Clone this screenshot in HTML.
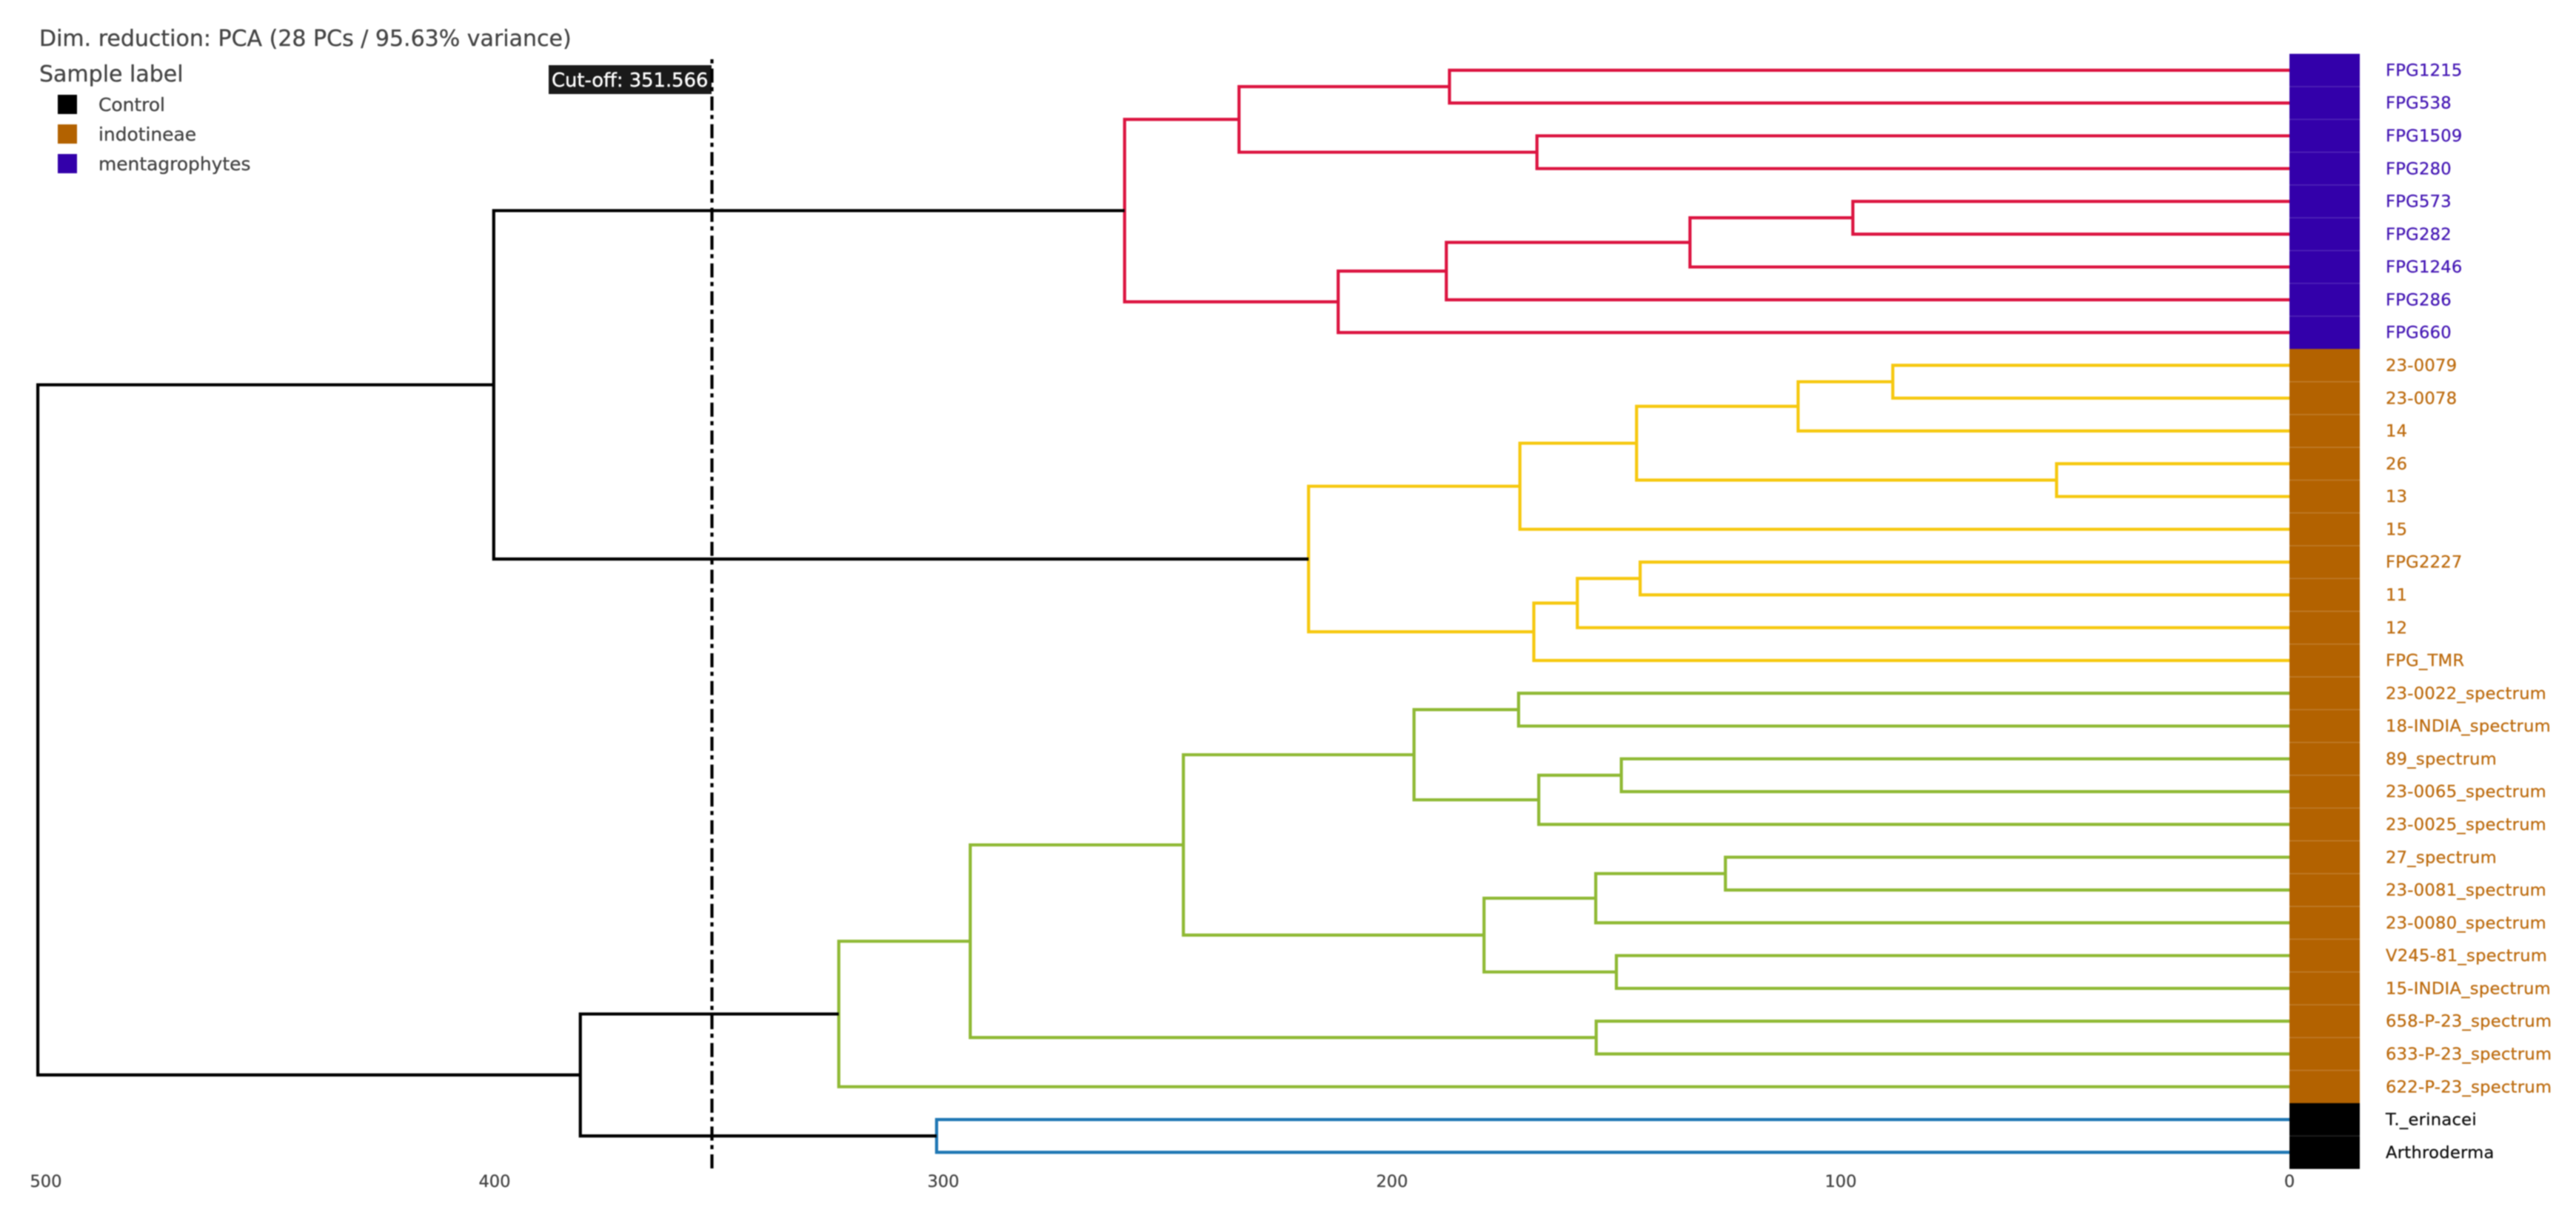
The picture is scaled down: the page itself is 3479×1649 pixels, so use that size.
<!DOCTYPE html>
<html lang="en">
<head>
<meta charset="utf-8">
<title>Dendrogram - Dim. reduction: PCA</title>
<style>
html,body{margin:0;padding:0;background:#fff;}
body{width:3479px;height:1649px;overflow:hidden;}
svg{display:block;filter:blur(0.7px);}
text{font-family:"DejaVu Sans","Liberation Sans",sans-serif;}
</style>
</head>
<body>
<svg id="chart" xmlns="http://www.w3.org/2000/svg" width="3479" height="1649" viewBox="0 0 3479 1649">
  <rect x="0" y="0" width="3479" height="1649" fill="#ffffff"/>
  <g id="links"></g>
  <g id="heat"></g>
  <g id="leaves"></g>
  <g id="ticks"></g>

  <text x="53" y="62" font-size="30" fill="#444" stroke="#444" stroke-width="0.3">Dim. reduction: PCA (28 PCs / 95.63% variance)</text>
  <text x="53" y="110" font-size="30" fill="#444" stroke="#444" stroke-width="0.3">Sample label</text>
  <g id="legend"></g>

  <rect x="741" y="88" width="220" height="39" fill="#1a1a1a"/>
  <text x="745" y="117" font-size="25.8" fill="#ffffff" stroke="#ffffff" stroke-width="0.4">Cut-off: 351.566</text>
  <line id="cutoff" y1="1578" y2="78" stroke="#000" stroke-width="4.2" stroke-dasharray="19 7 5.6 6"/>
</svg>
<script>
// Leaves, top to bottom
const leafLabels = ["FPG1215","FPG538","FPG1509","FPG280","FPG573","FPG282","FPG1246","FPG286","FPG660",
  "23-0079","23-0078","14","26","13","15","FPG2227","11","12","FPG_TMR",
  "23-0022_spectrum","18-INDIA_spectrum","89_spectrum","23-0065_spectrum","23-0025_spectrum","27_spectrum",
  "23-0081_spectrum","23-0080_spectrum","V245-81_spectrum","15-INDIA_spectrum","658-P-23_spectrum",
  "633-P-23_spectrum","622-P-23_spectrum","T._erinacei","Arthroderma"];
const leafGroups = ["mentagrophytes","mentagrophytes","mentagrophytes","mentagrophytes","mentagrophytes","mentagrophytes","mentagrophytes","mentagrophytes","mentagrophytes",
  "indotineae","indotineae","indotineae","indotineae","indotineae","indotineae","indotineae","indotineae","indotineae","indotineae",
  "indotineae","indotineae","indotineae","indotineae","indotineae","indotineae","indotineae","indotineae","indotineae","indotineae",
  "indotineae","indotineae","indotineae","Control","Control"];
// Linkage: a child id below leafLabels.length is a leaf row, otherwise merge (id - leafLabels.length)
const mergeLeft  = [0,2,34,4,37,38,39,36, 9,42,12,43,45,15,47,48,46, 19,21,52,51,24,55,27,56,54,29,59,61, 32, 41,62,64];
const mergeRight = [1,3,35,5,6,7,8,40, 10,11,13,44,14,16,17,18,49, 20,22,23,53,25,26,28,57,58,30,60,31, 33, 50,63,65];
const mergeHeights = [187.2,167.7,234.1,97.3,133.6,187.9,212.0,259.6,
  88.4,109.5,51.9,145.5,171.5,144.7,158.7,168.4,218.6,
  171.8,148.9,167.3,195.1,125.7,154.6,150.0,179.5,246.5,154.5,294.0,323.3,
  301.5, 400.2,380.9,501.8];
const mergeClusters = ["red","red","red","red","red","red","red","red",
  "yellow","yellow","yellow","yellow","yellow","yellow","yellow","yellow","yellow",
  "green","green","green","green","green","green","green","green","green","green","green","green",
  "blue","black","black","black"];
const xTickValues = [500,400,300,200,100,0];
const cutoffValue = 351.566;
const legendGroups = ["Control","indotineae","mentagrophytes"];

const clusterColors = {red:"#dc1440",yellow:"#f6c80f",green:"#8fb934",blue:"#1f77b4",black:"#000000"};
const groupColors = {Control:"#000000",indotineae:"#b36200",mentagrophytes:"#3300aa"};
const groupTextColors = {Control:"#111111",indotineae:"#bd6c10",mentagrophytes:"#4417b4"};
const groupSeparators = {Control:"rgba(255,255,255,.12)",indotineae:"rgba(255,255,255,.16)",mentagrophytes:"rgba(255,255,255,.14)"};

const SVGNS = "http://www.w3.org/2000/svg";
function mk(tag, attrs, parent){
  const el = document.createElementNS(SVGNS, tag);
  for (const k in attrs) el.setAttribute(k, attrs[k]);
  parent.appendChild(el);
  return el;
}
// Axis functions
const X0 = 3092, PX_PER_UNIT = 6.06;
const xScale = v => X0 - v * PX_PER_UNIT;
const ROW_TOP = 72.7, ROW_H = 44.285;
const yScale = row => ROW_TOP + ROW_H * (row + 0.5);

// Links
const linksG = document.getElementById("links");
const nLeaves = leafLabels.length;
const nodeRow = id => id < nLeaves ? id : mergeRows[id - nLeaves];
const nodeHeight = id => id < nLeaves ? 0 : mergeHeights[id - nLeaves];
const mergeRows = [];
mergeHeights.forEach(function(h, i){
  const a = mergeLeft[i], b = mergeRight[i];
  const ra = nodeRow(a), rb = nodeRow(b);
  mergeRows[i] = (ra + rb) / 2;
  const d = "M" + xScale(nodeHeight(a)) + " " + yScale(ra) +
            "L" + xScale(h) + " " + yScale(ra) +
            "L" + xScale(h) + " " + yScale(rb) +
            "L" + xScale(nodeHeight(b)) + " " + yScale(rb);
  const p = mk("path", {d:d, fill:"none", stroke:clusterColors[mergeClusters[i]], "stroke-width":4.2, "stroke-linejoin":"miter"}, linksG);
  
  
});

// Heat strip and leaf labels
const heatG = document.getElementById("heat");
const leavesG = document.getElementById("leaves");
leafLabels.forEach(function(label, i){
  const g = leafGroups[i];
  const c = mk("rect", {x:xScale(0), y:yScale(i)-ROW_H/2, width:95, height:ROW_H+0.3, fill:groupColors[g]}, heatG);
  
  
  if (i > 0 && leafGroups[i-1] === g) {
    const s = mk("rect", {x:xScale(0), y:yScale(i)-ROW_H/2-0.8, width:95, height:1.6, fill:groupSeparators[g]}, heatG);
    
    
  }
  const t = mk("text", {x:3222, y:yScale(i)+7.6, "font-size":22.6, "letter-spacing":0.28, fill:groupTextColors[g], stroke:groupTextColors[g], "stroke-width":0.3}, leavesG);
  t.textContent = label;
  
  
});

// X axis ticks
const ticksG = document.getElementById("ticks");
xTickValues.forEach(function(v){
  const t = mk("text", {x:xScale(v), y:1603, "font-size":22.6, fill:"#444", stroke:"#444", "stroke-width":0.3, "text-anchor":"middle"}, ticksG);
  t.textContent = String(v);
  
  
});

// Legend
const legendG = document.getElementById("legend");
legendGroups.forEach(function(name, i){
  const sw = mk("rect", {x:78, y:128+40*i, width:26, height:26, fill:groupColors[name]}, legendG);
  
  
  const t = mk("text", {x:133, y:150+40*i, "font-size":24.9, fill:"#444", stroke:"#444", "stroke-width":0.3}, legendG);
  t.textContent = name;
  
  
});

// Cut-off
const cut = document.getElementById("cutoff");
cut.setAttribute("x1", xScale(cutoffValue));
cut.setAttribute("x2", xScale(cutoffValue));
</script>
</body>
</html>
